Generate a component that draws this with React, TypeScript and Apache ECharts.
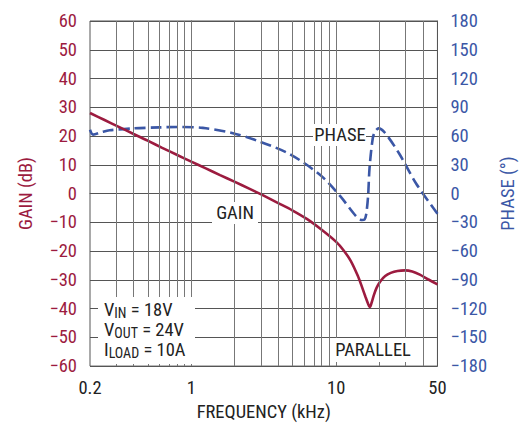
import React, { useEffect, useRef } from "react";
import * as echarts from "echarts";

const gainFreq = [0.2, 0.25, 0.316, 0.4, 0.5, 0.63, 0.8, 1, 1.26, 1.58, 2, 2.51, 3.16, 3.98, 5.01, 6.31, 7.94, 10, 11.2, 12.6, 14.1, 15, 15.9, 16.6, 17.1, 17.6, 18.2, 19, 20.2, 21.8, 23.8, 26.5, 29.9, 33.5, 37.8, 43, 50];
const gainDb = [28, 25.65, 23.2, 20.7, 18.4, 15.9, 13.4, 11.1, 8.75, 6.4, 4.05, 1.7, -0.75, -3.3, -5.9, -8.9, -12.6, -16.8, -19.6, -23.4, -28.6, -32.2, -35.8, -38.3, -39.5, -37.8, -35.3, -32.8, -30.5, -28.7, -27.6, -26.9, -26.7, -27.1, -28.2, -29.8, -31.6];

const phaseFreq = [0.2, 0.21, 0.24, 0.273, 0.4, 0.6, 0.818, 1.2, 1.88, 2.87, 4.8, 7.8, 10.7, 13.7, 15.1, 15.7, 16.1, 16.6, 17, 17.9, 18.6, 19.6, 21.7, 27.4, 35.6, 50];
const phaseDeg = [66.5, 61.5, 64, 66, 68, 69, 69.5, 68.5, 63.4, 55, 41, 19, -3, -23.5, -27.6, -27, -22, -3, 27, 58, 65, 68, 63.4, 41, 10.5, -21];

const gridFreqs = [0.3, 0.4, 0.5, 0.6, 0.7, 0.8, 0.9, 1, 2, 3, 4, 5, 6, 7, 8, 9, 10, 20, 30, 40];
const xTickLabels = [0.2, 1, 10, 50];

const FONT = "'Liberation Sans Narrow', 'Roboto Condensed', 'Arial Narrow', sans-serif";
const FS = 18.5;
const RED = "#9c1b3f";
const BLUE = "#3b57a6";
const TXT = "#222";

export default function App() {
  const ref = useRef<HTMLDivElement>(null);
  useEffect(() => {
    const chart = echarts.init(ref.current!, null, { renderer: "svg" });
    const lg = (v: number) => Math.log10(v);
    const minus = (v: number) => (v < 0 ? "\u2212" + Math.abs(v) : String(v));
    const sub = { m: { fontFamily: FONT, fontSize: FS, fill: TXT, lineHeight: 20 }, s: { fontFamily: FONT, fontSize: 14, fill: TXT, lineHeight: 20, verticalAlign: "bottom", padding: [6, 0, 0, 0] } };
    const option = {
      animation: false,
      grid: { left: 90, right: 84, top: 21, bottom: 53, show: true, borderColor: "#555", borderWidth: 1 },
      xAxis: {
        type: "value",
        min: lg(0.2),
        max: lg(50),
        name: "FREQUENCY (kHz)",
        nameLocation: "middle",
        nameGap: 35,
        nameTextStyle: { fontFamily: FONT, fontSize: FS, color: TXT },
        axisLine: { show: true, lineStyle: { color: "#555" } },
        axisTick: { show: false },
        splitLine: { show: false },
        axisLabel: {
          customValues: xTickLabels.map(lg),
          formatter: (v: number) => String(Math.round(Math.pow(10, v) * 10) / 10),
          fontFamily: FONT,
          fontSize: FS,
          color: TXT,
          margin: 12,
        },
      },
      yAxis: [
        {
          type: "value",
          min: -60,
          max: 60,
          interval: 10,
          name: "GAIN (dB)",
          nameLocation: "middle",
          nameGap: 55,
          nameTextStyle: { fontFamily: FONT, fontSize: FS, color: RED },
          axisLine: { show: true, lineStyle: { color: "#555" } },
          axisTick: { show: false },
          splitLine: { show: true, lineStyle: { color: "#555", width: 1 } },
          axisLabel: { fontFamily: FONT, fontSize: FS, color: RED, margin: 13, formatter: minus },
        },
        {
          type: "value",
          min: -180,
          max: 180,
          interval: 30,
          name: "PHASE (°)",
          nameLocation: "middle",
          nameGap: 55,
          nameTextStyle: { fontFamily: FONT, fontSize: FS, color: BLUE },
          axisLine: { show: true, lineStyle: { color: "#555" } },
          axisTick: { show: false },
          splitLine: { show: false },
          axisLabel: { fontFamily: FONT, fontSize: FS, color: BLUE, margin: 13, formatter: minus },
        },
      ],
      series: [
        {
          type: "line",
          data: [],
          z: 1,
          silent: true,
          markLine: {
            silent: true,
            symbol: ["none", "none"],
            label: { show: false },
            lineStyle: { color: "#777", width: 1, type: "solid" },
            data: gridFreqs.map((f) => ({ xAxis: lg(f) })),
          },
        },
        {
          type: "line",
          name: "PHASE",
          yAxisIndex: 1,
          z: 3,
          data: phaseFreq.map((f, i) => [lg(f), phaseDeg[i]]),
          smooth: 0.3,
          showSymbol: false,
          lineStyle: { color: BLUE, width: 2.6, type: [11, 5] },
        },
        {
          type: "line",
          name: "GAIN",
          yAxisIndex: 0,
          z: 4,
          data: gainFreq.map((f, i) => [lg(f), gainDb[i]]),
          smooth: 0.3,
          showSymbol: false,
          lineStyle: { color: RED, width: 2.6 },
        },
      ],
      graphic: [
        { type: "rect", shape: { x: 313, y: 124, width: 53, height: 22 }, style: { fill: "#fff" }, z: 10 },
        { type: "text", x: 340, y: 135, style: { text: "PHASE", fontFamily: FONT, fontSize: FS, fill: TXT, align: "center", verticalAlign: "middle" }, z: 11 },
        { type: "rect", shape: { x: 212, y: 202, width: 46, height: 22 }, style: { fill: "#fff" }, z: 10 },
        { type: "text", x: 235, y: 213, style: { text: "GAIN", fontFamily: FONT, fontSize: FS, fill: TXT, align: "center", verticalAlign: "middle" }, z: 11 },
        { type: "rect", shape: { x: 332, y: 338, width: 83, height: 24 }, style: { fill: "#fff" }, z: 10 },
        { type: "text", x: 373, y: 350, style: { text: "PARALLEL", fontFamily: FONT, fontSize: FS, fill: TXT, align: "center", verticalAlign: "middle" }, z: 11 },
        { type: "rect", shape: { x: 98, y: 297, width: 97, height: 67 }, style: { fill: "#fff" }, z: 10 },
        { type: "text", x: 104, y: 310, z: 11, style: { text: "{m|V}{s|IN}{m| = 18V}", verticalAlign: "middle", rich: sub } },
        { type: "text", x: 104, y: 330, z: 11, style: { text: "{m|V}{s|OUT}{m| = 24V}", verticalAlign: "middle", rich: sub } },
        { type: "text", x: 104, y: 350, z: 11, style: { text: "{m|I}{s|LOAD}{m| = 10A}", verticalAlign: "middle", rich: sub } },
      ],
    };
    chart.setOption(option as any);
    return () => chart.dispose();
  }, []);
  return <div ref={ref} style={{ position: "fixed", left: 0, top: 0, width: 525, height: 426, background: "#fff" }} />;
}
